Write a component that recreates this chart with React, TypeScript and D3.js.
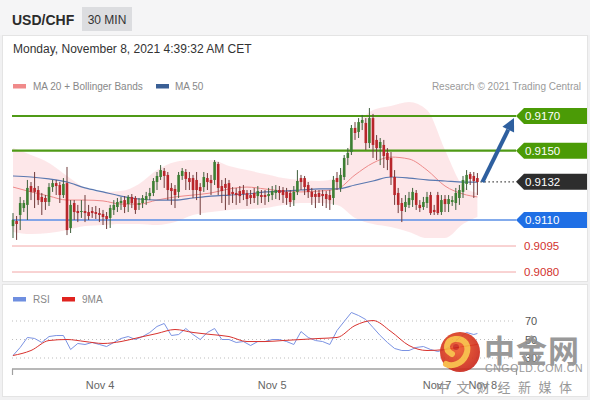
import React from 'react';
import * as d3 from 'd3';

// ---- Candles (30 min, USD/CHF) ----
const opens = [0.91065,0.91094,0.91129,0.91169,0.91187,0.91296,0.91285,0.91273,0.91233,0.91227,0.91204,0.91290,0.91313,0.91302,0.91244,0.91313,0.91054,0.91198,0.91152,0.91146,0.91152,0.91146,0.91152,0.91146,0.91140,0.91135,0.91123,0.91112,0.91158,0.91175,0.91198,0.91215,0.91192,0.91233,0.91227,0.91187,0.91198,0.91215,0.91238,0.91256,0.91319,0.91348,0.91383,0.91360,0.91285,0.91279,0.91262,0.91354,0.91377,0.91342,0.91342,0.91331,0.91290,0.91290,0.91342,0.91331,0.91331,0.91423,0.91296,0.91308,0.91313,0.91262,0.91256,0.91267,0.91273,0.91256,0.91244,0.91256,0.91238,0.91244,0.91244,0.91238,0.91244,0.91256,0.91273,0.91273,0.91262,0.91256,0.91215,0.91262,0.91342,0.91342,0.91302,0.91262,0.91250,0.91256,0.91250,0.91250,0.91244,0.91227,0.91342,0.91285,0.91348,0.91458,0.91492,0.91631,0.91608,0.91660,0.91660,0.91544,0.91688,0.91562,0.91515,0.91533,0.91487,0.91458,0.91348,0.91256,0.91198,0.91175,0.91187,0.91215,0.91256,0.91187,0.91175,0.91198,0.91244,0.91158,0.91244,0.91146,0.91221,0.91192,0.91204,0.91198,0.91227,0.91262,0.91308,0.91365,0.91354,0.91342];
const highs = [0.91140,0.91123,0.91233,0.91215,0.91331,0.91319,0.91377,0.91296,0.91256,0.91244,0.91313,0.91331,0.91331,0.91319,0.91342,0.91406,0.91215,0.91215,0.91187,0.91215,0.91244,0.91187,0.91175,0.91181,0.91169,0.91158,0.91146,0.91187,0.91215,0.91227,0.91233,0.91238,0.91244,0.91250,0.91238,0.91227,0.91244,0.91262,0.91285,0.91342,0.91377,0.91417,0.91400,0.91377,0.91313,0.91302,0.91377,0.91400,0.91394,0.91377,0.91360,0.91377,0.91313,0.91377,0.91371,0.91360,0.91446,0.91435,0.91331,0.91342,0.91331,0.91290,0.91285,0.91296,0.91302,0.91273,0.91273,0.91285,0.91296,0.91273,0.91273,0.91285,0.91296,0.91302,0.91296,0.91290,0.91285,0.91273,0.91296,0.91388,0.91360,0.91354,0.91319,0.91285,0.91273,0.91273,0.91273,0.91267,0.91273,0.91354,0.91377,0.91400,0.91475,0.91515,0.91648,0.91665,0.91688,0.91706,0.91688,0.91746,0.91712,0.91590,0.91573,0.91562,0.91515,0.91492,0.91388,0.91285,0.91227,0.91244,0.91262,0.91285,0.91273,0.91215,0.91233,0.91262,0.91262,0.91187,0.91262,0.91244,0.91244,0.91244,0.91238,0.91285,0.91302,0.91354,0.91388,0.91377,0.91377,0.91371];
const lows = [0.90996,0.90985,0.91042,0.91146,0.91100,0.91215,0.91169,0.91187,0.91129,0.91158,0.91181,0.91262,0.91244,0.91198,0.91227,0.91013,0.91025,0.91100,0.91088,0.91112,0.91088,0.91100,0.91112,0.91106,0.91088,0.91071,0.91048,0.91054,0.91129,0.91146,0.91158,0.91140,0.91146,0.91169,0.91135,0.91158,0.91169,0.91187,0.91215,0.91238,0.91273,0.91331,0.91285,0.91215,0.91187,0.91169,0.91227,0.91331,0.91273,0.91273,0.91227,0.91215,0.91129,0.91262,0.91273,0.91244,0.91302,0.91244,0.91198,0.91158,0.91187,0.91198,0.91187,0.91198,0.91215,0.91181,0.91192,0.91198,0.91187,0.91198,0.91187,0.91204,0.91215,0.91221,0.91215,0.91198,0.91187,0.91175,0.91181,0.91244,0.91273,0.91244,0.91227,0.91187,0.91169,0.91198,0.91181,0.91169,0.91158,0.91187,0.91273,0.91262,0.91331,0.91417,0.91475,0.91562,0.91573,0.91619,0.91504,0.91515,0.91458,0.91446,0.91417,0.91400,0.91388,0.91302,0.91187,0.91140,0.91088,0.91146,0.91169,0.91175,0.91158,0.91146,0.91158,0.91169,0.91129,0.91129,0.91129,0.91129,0.91146,0.91146,0.91181,0.91158,0.91187,0.91227,0.91273,0.91302,0.91227,0.91244];
const closes = [0.91100,0.91077,0.91198,0.91198,0.91285,0.91262,0.91262,0.91215,0.91204,0.91204,0.91290,0.91313,0.91296,0.91244,0.91308,0.91042,0.91187,0.91146,0.91140,0.91152,0.91140,0.91123,0.91140,0.91135,0.91129,0.91117,0.91106,0.91169,0.91187,0.91204,0.91210,0.91175,0.91233,0.91198,0.91158,0.91198,0.91227,0.91238,0.91256,0.91325,0.91354,0.91388,0.91354,0.91273,0.91267,0.91244,0.91360,0.91383,0.91337,0.91319,0.91273,0.91273,0.91267,0.91348,0.91319,0.91313,0.91435,0.91285,0.91267,0.91285,0.91244,0.91250,0.91244,0.91238,0.91250,0.91221,0.91227,0.91227,0.91267,0.91233,0.91233,0.91250,0.91267,0.91273,0.91256,0.91244,0.91227,0.91204,0.91262,0.91325,0.91319,0.91290,0.91262,0.91233,0.91233,0.91233,0.91238,0.91221,0.91215,0.91331,0.91319,0.91360,0.91458,0.91487,0.91631,0.91602,0.91665,0.91677,0.91544,0.91688,0.91533,0.91515,0.91550,0.91469,0.91446,0.91348,0.91244,0.91187,0.91152,0.91204,0.91227,0.91262,0.91187,0.91169,0.91204,0.91233,0.91140,0.91146,0.91140,0.91215,0.91192,0.91221,0.91215,0.91256,0.91273,0.91331,0.91360,0.91337,0.91325,0.91319];

// ---- Indicators, sampled every 5 candles ----
const indIdx = [0,5,10,15,20,25,30,35,40,45,50,55,60,65,70,75,80,85,90,95,100,105,110,115,120,125,129];
const ma50 = [0.91354,0.91348,0.91337,0.91319,0.91285,0.91262,0.91238,0.91221,0.91215,0.91215,0.91227,0.91238,0.91244,0.91250,0.91262,0.91267,0.91273,0.91279,0.91279,0.91302,0.91325,0.91348,0.91342,0.91331,0.91325,0.91319,0.91319];
const ma20 = [0.91290,0.91262,0.91238,0.91215,0.91215,0.91210,0.91192,0.91192,0.91215,0.91233,0.91244,0.91256,0.91279,0.91290,0.91279,0.91267,0.91262,0.91267,0.91279,0.91360,0.91429,0.91463,0.91452,0.91388,0.91296,0.91250,0.91233];
const bbUpper = [0.91515,0.91475,0.91429,0.91354,0.91285,0.91262,0.91267,0.91308,0.91388,0.91435,0.91446,0.91446,0.91412,0.91388,0.91365,0.91342,0.91331,0.91325,0.91342,0.91619,0.91735,0.91758,0.91781,0.91735,0.91504,0.91296,0.91256];
const bbLower = [0.91031,0.91019,0.91025,0.91042,0.91065,0.91071,0.91077,0.91077,0.91071,0.91088,0.91129,0.91146,0.91158,0.91163,0.91169,0.91187,0.91198,0.91198,0.91187,0.91112,0.91077,0.91060,0.91031,0.90996,0.90996,0.91077,0.91117];

// ---- RSI (every 2 candles, last at 129) ----
const rsiIdx = [0,2,4,6,8,10,12,14,16,18,20,22,24,26,28,30,32,34,36,38,40,42,44,46,48,50,52,54,56,58,60,62,64,66,68,70,72,74,76,78,80,82,84,86,88,90,92,94,96,98,100,102,104,106,108,110,112,114,116,118,120,122,124,126,128,129];
const rsi = [32.7,41.4,52.2,51.1,46.8,53.2,54.3,54.3,39.2,45.7,44.6,46.8,44.6,42.4,46.8,51.1,53.2,50,53.2,57.6,64.1,67.3,54.3,55.4,61.9,55.4,50,57.6,61.9,50,50,46.8,47.8,43.5,47.8,47.8,50,50,47.8,44.6,58.6,52.2,48.9,47.8,44.6,59.7,69.5,79.2,75.9,71.6,63,54.3,46.8,40.3,38.1,38.1,41.4,42.4,39.2,37,39.2,43.5,52.2,57.6,55.4,56.5];
const rsiMA = [32.7,38.1,48.9,50,47.8,45.7,47.8,52.2,56.5,60.8,57.6,55.4,53.2,47.8,47.8,48.9,50,51.1,52.2,65.1,70.5,58.6,43.5,38.1,39.2,42.4,44.6];
const rsiLevels = [70, 50, 30];

// ---- Levels ----
const levelValues = [0.9170, 0.9150, 0.9132, 0.9110, 0.9095, 0.9080];
const levelLabels = ['0.9170', '0.9150', '0.9132', '0.9110', '0.9095', '0.9080'];
const levelKinds = ['res', 'res', 'last', 'sup', 'minor', 'minor'];

// ---- X axis ----
const xTickIdx = [24.2, 72, 117.8, 130.5];
const xTickLabels = ['Nov 4', 'Nov 5', 'Nov 7', 'Nov 8'];

const FONT = '"Liberation Sans", Arial, Helvetica, sans-serif';

export default function App() {
  const x = d3.scaleLinear().domain([0, 129]).range([13, 477.4]);
  const y = d3.scaleLinear().domain([0.908, 0.917]).range([272, 116]);
  const ry = d3.scaleLinear().domain([30, 70]).range([358, 321]);

  const bandArea = d3.area<number>()
    .x((_, i) => x(indIdx[i]))
    .y0((_, i) => y(bbLower[i]))
    .y1((_, i) => y(bbUpper[i]))
    .curve(d3.curveMonotoneX);
  const indLine = (vals: number[]) =>
    d3.line<number>().x((_, i) => x(indIdx[i])).y((d) => y(d)).curve(d3.curveMonotoneX)(vals) || '';
  const rsiPath = d3.line<number>().x((_, i) => x(rsiIdx[i])).y((d) => ry(d))(rsi) || '';
  const rsiMAPath = d3.line<number>().x((_, i) => x(indIdx[i])).y((d) => ry(d)).curve(d3.curveMonotoneX)(rsiMA) || '';

  const bw = 2.6;
  const lineX0 = 12, lineX1 = 516;

  const lastX = x(129);
  const lastY = y(closes[closes.length - 1]);

  // arrow
  const ax0 = lastX + 5, ay0 = lastY;
  const ax1 = 514, ay1 = y(0.9170) + 2;
  const ang = Math.atan2(ay1 - ay0, ax1 - ax0);
  const headL = 13, headW = 6.5;
  const bx = ax1 - headL * Math.cos(ang), by = ay1 - headL * Math.sin(ang);
  const px = -Math.sin(ang), py = Math.cos(ang);

  return (
    <svg width={590} height={400} style={{ position: 'absolute', left: 0, top: 0, fontFamily: FONT }}>
      <defs>
        <radialGradient id="logoG" cx="45%" cy="40%" r="60%">
          <stop offset="0%" stopColor="#f05a28" />
          <stop offset="100%" stopColor="#c9261a" />
        </radialGradient>
      </defs>
      <rect x={0} y={0} width={590} height={400} fill="#f1f1f2" />
      <rect x={0} y={0} width={590} height={35} fill="#f5f5f6" />
      {/* header */}
      <text x={12} y={25} fontSize={14} fontWeight="bold" fill="#2b2b2b">USD/CHF</text>
      <rect x={82} y={7} width={50} height={24} fill="#dcdde0" />
      <text x={107} y={23.5} fontSize={12} fill="#333" textAnchor="middle">30 MIN</text>

      {/* main panel */}
      <rect x={2.5} y={35.5} width={585} height={246} fill="#fff" stroke="#e4e4e4" />
      <text x={13} y={53} fontSize={12} fill="#333">Monday, November 8, 2021 4:39:32 AM CET</text>
      <rect x={13} y={84} width={13} height={4.5} fill="#f08a8a" />
      <text x={33} y={90} fontSize={10} fill="#888">MA 20 + Bollinger Bands</text>
      <rect x={156} y={84} width={13} height={4.5} fill="#3a5f95" />
      <text x={175} y={90} fontSize={10} fill="#888">MA 50</text>
      <text x={581} y={90} fontSize={10} fill="#9a9a9a" textAnchor="end">Research © 2021 Trading Central</text>

      {/* bollinger */}
      <path d={bandArea(bbUpper) || ''} fill="#fbd3d7" opacity={0.55} />

      {/* level lines */}
      {levelValues.map((v, i) => {
        const k = levelKinds[i];
        const yy = y(v);
        if (k === 'last') {
          return <line key={i} x1={lastX + 3} x2={lineX1} y1={yy} y2={yy} stroke="#444" strokeWidth={1.3} strokeDasharray="1.5,2.5" />;
        }
        const col = k === 'res' ? '#4f9a16' : k === 'sup' ? '#5a8fe6' : '#f2a6a6';
        const sw = k === 'res' ? 2.2 : k === 'sup' ? 1.6 : 1;
        return <line key={i} x1={lineX0} x2={lineX1} y1={yy} y2={yy} stroke={col} strokeWidth={sw} />;
      })}

      {/* MAs */}
      <path d={indLine(ma20)} fill="none" stroke="#ee8a8a" strokeWidth={1} />
      <path d={indLine(ma50)} fill="none" stroke="#5a78b0" strokeWidth={1.2} />

      {/* candles */}
      {closes.map((c, i) => {
        const o = opens[i];
        const up = c >= o;
        const cx = x(i);
        const top = y(Math.max(o, c));
        const bot = y(Math.min(o, c));
        const body = up ? '#3d7f33' : '#b8262b';
        const wick = up ? '#3f5f3c' : '#6e3a3a';
        return (
          <g key={i}>
            <line x1={cx} x2={cx} y1={y(highs[i])} y2={y(lows[i])} stroke={wick} strokeWidth={1} />
            <rect x={cx - bw / 2} y={top} width={bw} height={Math.max(1, bot - top)} fill={body} />
          </g>
        );
      })}

      {/* labels */}
      {levelValues.map((v, i) => {
        const k = levelKinds[i];
        const yy = y(v);
        if (k === 'minor') {
          return <text key={i} x={524} y={yy + 4.2} fontSize={11.5} fill="#d2322d">{levelLabels[i]}</text>;
        }
        const fill = k === 'res' ? '#4b9b06' : k === 'sup' ? '#1f6fe5' : '#2d2d2d';
        const h = 8;
        const d = `M516,${yy} L524,${yy - h} L587,${yy - h} L587,${yy + h} L524,${yy + h} Z`;
        return (
          <g key={i}>
            <path d={d} fill={fill} />
            <text x={525} y={yy + 4.2} fontSize={11.5} fill="#fff">{levelLabels[i]}</text>
          </g>
        );
      })}

      {/* arrow */}
      <line x1={ax0} y1={ay0} x2={bx} y2={by} stroke="#2e5f9f" strokeWidth={4} />
      <path d={`M${ax1},${ay1} L${bx + px * headW},${by + py * headW} L${bx - px * headW},${by - py * headW} Z`} fill="#2e5f9f" />

      {/* RSI panel */}
      <rect x={2.5} y={284.5} width={585} height={112} fill="#fff" stroke="#e4e4e4" />
      <rect x={13} y={297} width={13} height={4.5} fill="#6f8fe0" />
      <text x={33} y={303} fontSize={10} fill="#888">RSI</text>
      <rect x={62} y={297} width={13} height={4.5} fill="#e0231f" />
      <text x={82} y={303} fontSize={10} fill="#888">9MA</text>
      {rsiLevels.map((lv) => (
        <g key={lv}>
          <line x1={12} x2={516} y1={ry(lv)} y2={ry(lv)} stroke="#bdbdbd" strokeWidth={1} strokeDasharray="1,3" />
          <text x={525} y={ry(lv) + 4} fontSize={11} fill="#555">{lv}</text>
        </g>
      ))}
      <path d={rsiPath} fill="none" stroke="#7b93e3" strokeWidth={1} />
      <path d={rsiMAPath} fill="none" stroke="#d8322e" strokeWidth={1} />
      <line x1={12} x2={517} y1={369} y2={369} stroke="#a0a0a0" strokeWidth={1.5} />
      <line x1={12.5} x2={12.5} y1={369} y2={375} stroke="#a0a0a0" strokeWidth={1.2} />
      <line x1={516.5} x2={516.5} y1={369} y2={375} stroke="#a0a0a0" strokeWidth={1.2} />
      {xTickIdx.map((t, i) => (
        <text key={i} x={x(t)} y={389} fontSize={11} fill="#666" textAnchor="middle">{xTickLabels[i]}</text>
      ))}

      {/* watermark */}
      <g opacity={0.9}>
        <circle cx={460} cy={352} r={20} fill="url(#logoG)" />
        <path d="M452,354 C444,350 446,340 455,339 C465,338 470,346 466,355 C462,364 452,367 446,364" fill="none" stroke="#f7b53b" strokeWidth={6} strokeLinecap="round" />
        <circle cx={456} cy={347} r={3} fill="#c9261a" />
        <text x={484} y={362} fontSize={31} fontWeight="bold" fill="#8e8e8e" fontFamily='"Noto Sans CJK SC", sans-serif' letterSpacing={1}>中金网</text>
        <text x={485} y={372} fontSize={10.5} fill="#8e8e8e" letterSpacing={0.6}>CNGOLD.COM.CN</text>
        <text x={436} y={392} fontSize={13} fill="#8e8e8e" fontFamily='"Noto Sans CJK SC", sans-serif' letterSpacing={7.5}>中文财经新媒体</text>
      </g>
    </svg>
  );
}
